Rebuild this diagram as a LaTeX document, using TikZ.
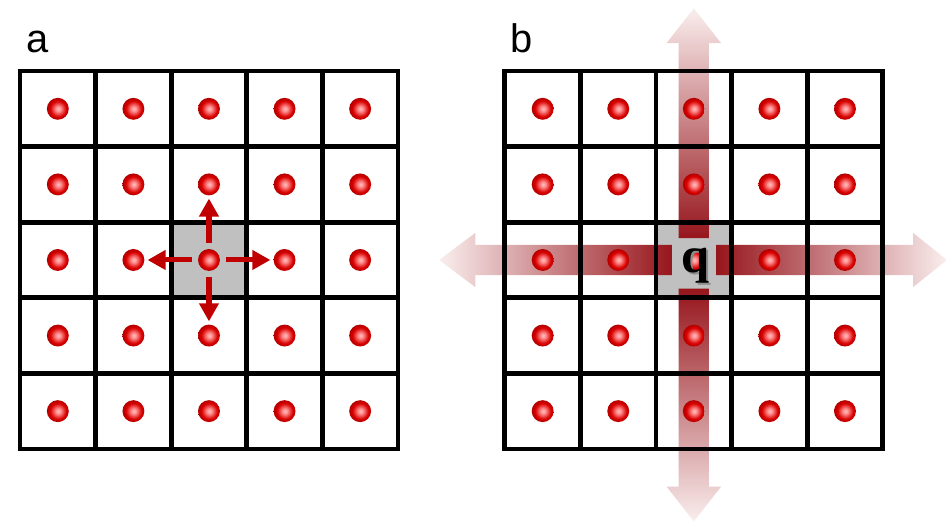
\documentclass[tikz,border=0pt]{standalone}
\usepackage{fontspec}
\setsansfont{Liberation Sans}
\newfontfamily\qfont{Liberation Serif}
\usetikzlibrary{arrows.meta}

\definecolor{hopred}{RGB}{192,0,0}
\definecolor{bardark}{RGB}{150,22,28}
\definecolor{barpale}{RGB}{250,238,238}
\definecolor{cellgray}{RGB}{192,192,192}
\pgfdeclareradialshading{redsphere}{\pgfpoint{1bp}{0bp}}{%
  color(0bp)=(white!75!red); color(6bp)=(red!45!white);
  color(18bp)=(red!85!black); color(28bp)=(red!65!black);
  color(50bp)=(red!50!black)}

\begin{document}
\begin{tikzpicture}[
    gridline/.style = {line width=1.8pt , line cap=rect},
    dot/.style = {circle , inner sep=0pt , minimum size=0.29cm , shading=redsphere},
    hop/.style = {hopred , line width=1.9pt , -{Triangle[length=0.24cm , width=0.25cm]} , shorten <=0.075cm , shorten >=0.035cm},
    panel/.style = {anchor=base west , inner sep=0pt , font=\sffamily\fontsize{15}{15}\selectfont}
  ]
    \useasboundingbox (0,0) rectangle (12.53,6.97);

    % a : nearest neighbours
    \node[panel] (lbl-a) at (0.34,6.27) {a};
    \begin{scope}[shift={(0.265,1.03)}]
      \fill[cellgray] (2,2) rectangle (3,3);
      \draw[gridline] (0,0) grid (5,5);
      \foreach \i in {1,...,5}
        \foreach \j in {1,...,5}
          \node[dot] (a-\i-\j) at (\i-0.5,\j-0.5) {};
      \draw[hop] (a-3-3) -- (a-4-3);
      \draw[hop] (a-3-3) -- (a-2-3);
      \draw[hop] (a-3-3) -- (a-3-4);
      \draw[hop] (a-3-3) -- (a-3-2);
    \end{scope}

    % b : whole row and column
    \node[panel] (lbl-b) at (6.75,6.27) {b};
    \begin{scope}[shift={(6.68,1.03)}]
      \fill[cellgray] (2,2) rectangle (3,3);
      \begin{scope}[shift={(2.5,2.5)}]
        \shade[left color=barpale , right color=bardark] (-3.37,0) -- (-2.89,0.36) -- (-2.89,0.2) -- (-0.29,0.2) -- (-0.29,-0.2) -- (-2.89,-0.2) -- (-2.89,-0.36) -- cycle; % links
        \shade[left color=bardark , right color=barpale] (3.35,0) -- (2.9,0.36) -- (2.9,0.2) -- (0.3,0.2) -- (0.3,-0.2) -- (2.9,-0.2) -- (2.9,-0.36) -- cycle; % rechts
        \shade[top color=barpale , bottom color=bardark] (0,3.33) -- (0.36,2.87) -- (0.2,2.87) -- (0.2,0.29) -- (-0.2,0.29) -- (-0.2,2.87) -- (-0.36,2.87) -- cycle; % oben
        \shade[top color=bardark , bottom color=barpale] (0,-3.46) -- (0.36,-3.0) -- (0.2,-3.0) -- (0.2,-0.38) -- (-0.2,-0.38) -- (-0.2,-3.0) -- (-0.36,-3.0) -- cycle; % unten
      \end{scope}
      \draw[gridline] (0,0) grid (5,5);
      \foreach \i in {1,...,5}
        \foreach \j in {1,...,5}
          \node[dot] (b-\i-\j) at (\i-0.5,\j-0.5) {};
      \node[text=black!45 , font=\qfont\bfseries\fontsize{19}{19}\selectfont] (q-shadow) at (2.545,2.395) {q};
      \node[font=\qfont\bfseries\fontsize{19}{19}\selectfont] (q) at (2.52,2.42) {q};
    \end{scope}
\end{tikzpicture}
\end{document}
